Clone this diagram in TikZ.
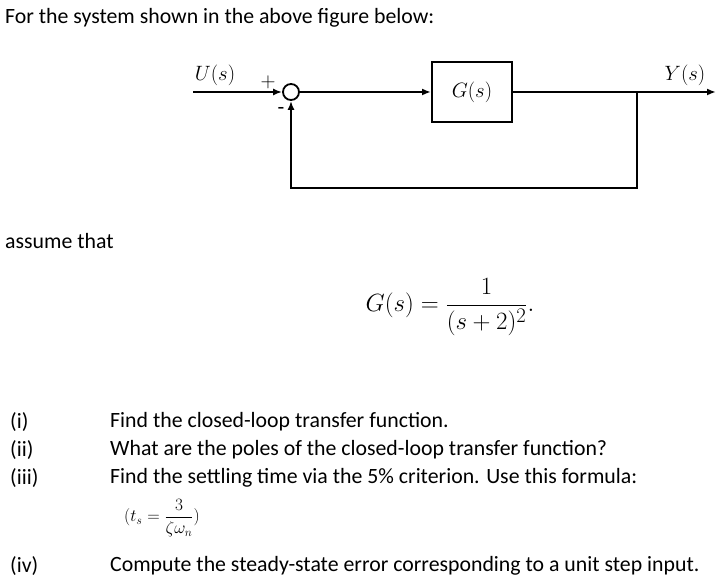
\documentclass[tikz,border=0pt]{standalone}
\usepackage{fontspec}
\setmainfont{Carlito}
\usepackage{amsmath}
\usetikzlibrary{arrows.meta}
\begin{document}
\begin{tikzpicture}[x=1pt,y=-1pt,
  txt/.style={anchor=west,inner sep=0pt,font=\fontsize{21.8}{24}\selectfont},
  wire/.style={line width=1.8pt},
  arr/.style={wire,-{Latex[length=9pt,width=7pt]}},
  mlab/.style={inner sep=0pt,font=\fontsize{22}{26}\selectfont}]
\useasboundingbox (0,0) rectangle (720,580);
\node[txt] (t1) at (5,18) {For the system shown in the above figure below:};
\node[mlab] (u) at (215,75) {$U(s)$};
\node[mlab] (plus) at (268,82) {$+$};
\node[mlab] (minus) at (281,111) {-};
\node[mlab] (y) at (685,75) {$Y(s)$};
\coordinate (in) at (193,92);
\node[draw,circle,line width=1.8pt,minimum size=16pt,inner sep=0pt] (sum) at (291,92) {};
\node[draw,line width=2pt,minimum width=80pt,minimum height=60pt,mlab] (g) at (472,92) {$G(s)$};
\coordinate (out) at (716,92);
\coordinate (br) at (637,92);
\coordinate (c1) at (637,188);
\coordinate (c2) at (291,188);
\draw[arr] (in) -- (sum.west);
\draw[arr] (sum.east) -- (g.west);
\draw[wire] (g.east) -- (br);
\draw[arr] (br) -- (out);
\draw[arr] (br) -- (c1) -- (c2) -- (sum.south);
\node[txt] (t2) at (5,241) {assume that};
\node[inner sep=0pt,font=\fontsize{28}{32}\selectfont] (eq) at (450,307) {$G(s)=\dfrac{1}{(s+2)^2}.$};
\node[txt] (n1) at (10,422) {(i)};
\node[txt] (n2) at (10,450) {(ii)};
\node[txt] (n3) at (10,478) {(iii)};
\node[txt] (n4) at (10,566) {(iv)};
\node[txt] (q1) at (110,422) {Find the closed-loop transfer function.};
\node[txt] (q2) at (110,450) {What are the poles of the closed-loop transfer function?};
\node[txt] (q3) at (110,478) {Find the settling time via the 5\% criterion. Use this formula:};
\node[inner sep=0pt,font=\fontsize{18}{21}\selectfont] (f) at (162,518) {$(t_s=\dfrac{3}{\zeta\omega_n})$};
\node[txt] (q4) at (110,566) {Compute the steady-state error corresponding to a unit step input.};
\end{tikzpicture}
\end{document}
